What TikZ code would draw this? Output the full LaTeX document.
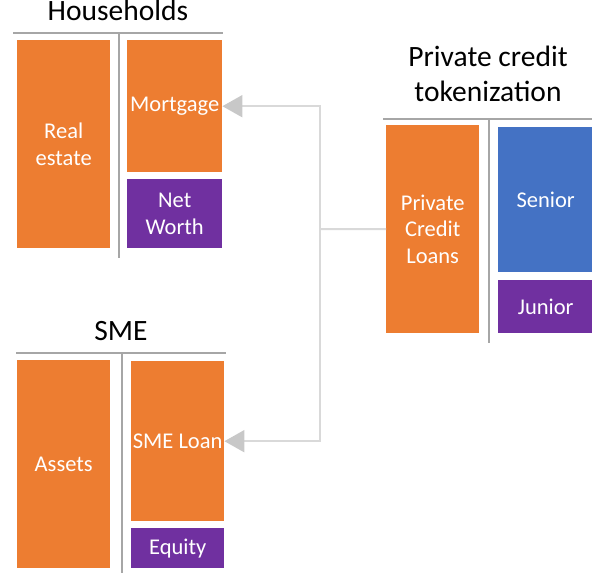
\documentclass[tikz,border=0pt]{standalone}
\usepackage{fontspec}
\setmainfont{Carlito}
\usetikzlibrary{arrows.meta}
\definecolor{cOrange}{HTML}{ED7D31}
\definecolor{cPurple}{HTML}{7030A0}
\definecolor{cBlue}{HTML}{4472C4}
\definecolor{cDiv}{HTML}{A6A6A6}
\definecolor{cLink}{HTML}{D9D9D9}
\definecolor{cTip}{HTML}{C8C8C8}
\begin{document}
\begin{tikzpicture}[x=1pt,y=-1pt,
  box/.style={inner sep=0pt, anchor=north west, text=white, align=center,
    font=\fontsize{22.5}{26.7}\selectfont},
  title/.style={inner sep=0pt, anchor=base, align=center, text=black,
    font=\fontsize{29.5}{35}\selectfont},
  divider/.style={draw=cDiv, line width=2pt},
  link/.style={draw=cLink, line width=2pt},
  linkarrow/.style={link, -{Triangle[length=20pt,width=22pt,color=cTip]}}]
\useasboundingbox (0,0) rectangle (592,573);
% Households
\node[title] (hht) at (118,20) {Households};
\coordinate (hhl) at (13,33); \coordinate (hhr) at (223,33);
\coordinate (hhvt) at (119,33); \coordinate (hhvb) at (119,258);
\draw[divider] (hhl) -- (hhr);
\draw[divider] (hhvt) -- (hhvb);
\node[box, fill=cOrange, minimum width=93pt, minimum height=208pt] (re) at (17,40) {Real\\estate};
\node[box, fill=cOrange, minimum width=95pt, minimum height=132pt] (mort) at (127,40) {Mortgage};
\node[box, fill=cPurple, minimum width=95pt, minimum height=69pt] (nw) at (127,179) {Net\\Worth};
% SME
\node[title] (smet) at (121,340) {SME};
\coordinate (sml) at (16,353); \coordinate (smr) at (226,353);
\coordinate (smvt) at (122,353); \coordinate (smvb) at (122,573);
\draw[divider] (sml) -- (smr);
\draw[divider] (smvt) -- (smvb);
\node[box, fill=cOrange, minimum width=93pt, minimum height=208pt] (assets) at (17,360) {Assets};
\node[box, fill=cOrange, minimum width=93pt, minimum height=160pt] (smeloan) at (131,361) {SME Loan};
\node[box, fill=cPurple, minimum width=93pt, minimum height=40pt] (equity) at (131,528) {Equity};
% Private credit tokenization
\node[title] (pct) at (488,101) {Private credit\\tokenization};
\coordinate (pcl) at (383,119); \coordinate (pcr) at (592,119);
\coordinate (pcvt) at (489,119); \coordinate (pcvb) at (489,343);
\draw[divider] (pcl) -- (pcr);
\draw[divider] (pcvt) -- (pcvb);
\node[box, fill=cOrange, minimum width=93pt, minimum height=208pt] (pcloans) at (386,125) {Private\\Credit\\Loans};
\node[box, fill=cBlue, minimum width=95pt, minimum height=145pt] (senior) at (498,127) {Senior};
\node[box, fill=cPurple, minimum width=95pt, minimum height=53pt] (junior) at (498,280) {Junior};
% connectors
\coordinate (junc) at (320,229);
\draw[link] (pcloans.west) -- (junc);
\draw[linkarrow] (junc) |- (mort.east);
\draw[linkarrow] (junc) |- (smeloan.east);
\end{tikzpicture}
\end{document}
